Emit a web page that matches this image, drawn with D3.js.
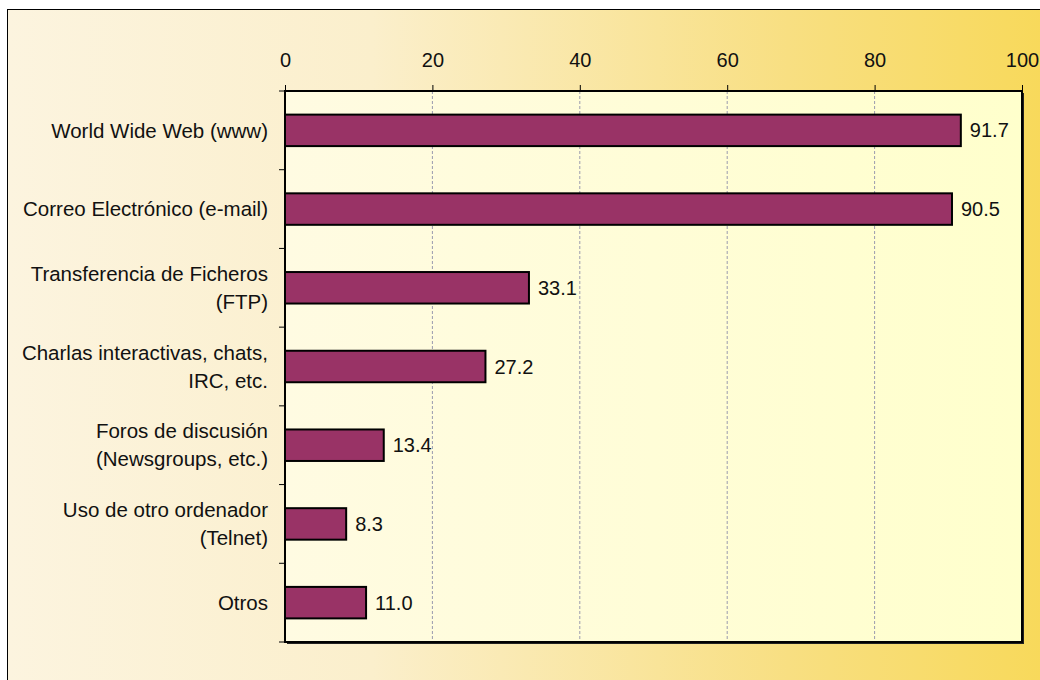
<!DOCTYPE html>
<html><head><meta charset="utf-8">
<script src="https://cdn.jsdelivr.net/npm/d3@7"></script>
<style>html,body{margin:0;padding:0;background:#fff;}svg{display:block;}</style>
</head><body>
<script>
const categories = [
  ["World Wide Web (www)"],
  ["Correo Electrónico (e-mail)"],
  ["Transferencia de Ficheros", "(FTP)"],
  ["Charlas interactivas, chats,", "IRC, etc."],
  ["Foros de discusión", "(Newsgroups, etc.)"],
  ["Uso de otro ordenador", "(Telnet)"],
  ["Otros"]
];
const values = [91.7, 90.5, 33.1, 27.2, 13.4, 8.3, 11.0];
const tickValues = [0, 20, 40, 60, 80, 100];

const FONT = "Liberation Sans, Arial, sans-serif";
const W = 1040, H = 680;
const svg = d3.select("body").append("svg").attr("width", W).attr("height", H);
const defs = svg.append("defs");
const g1 = defs.append("linearGradient").attr("id", "bg").attr("x1", 0).attr("x2", 1).attr("y1", 0).attr("y2", 0);
g1.append("stop").attr("offset", 0).attr("stop-color", "#fcf4df");
g1.append("stop").attr("offset", 0.35).attr("stop-color", "#fbefcc");
g1.append("stop").attr("offset", 0.75).attr("stop-color", "#f8df82");
g1.append("stop").attr("offset", 1).attr("stop-color", "#f8d95a");
const g2 = defs.append("linearGradient").attr("id", "plotbg").attr("x1", 0).attr("x2", 1).attr("y1", 0).attr("y2", 0);
g2.append("stop").attr("offset", 0).attr("stop-color", "#fffbe2");
g2.append("stop").attr("offset", 1).attr("stop-color", "#ffffcc");

svg.append("rect").attr("x", 7.5).attr("y", 9.5).attr("width", W).attr("height", H)
  .attr("fill", "url(#bg)").attr("stroke", "#000").attr("stroke-width", 1);

const m = {left: 285, top: 91, right: 1022, bottom: 642};
const x = d3.scaleLinear().domain([0, 100]).range([m.left, m.right]);
const y = d3.scaleBand().domain(d3.range(categories.length)).range([m.top, m.bottom]).paddingInner(0.6).paddingOuter(0.3);

// shadow
svg.append("rect").attr("x", m.left + 2).attr("y", m.top + 2).attr("width", m.right - m.left).attr("height", m.bottom - m.top)
  .attr("fill", "#222");
svg.append("rect").attr("x", m.left).attr("y", m.top).attr("width", m.right - m.left).attr("height", m.bottom - m.top)
  .attr("fill", "url(#plotbg)");

// gridlines
svg.append("g").selectAll("line").data(tickValues.filter(d => d > 0 && d < 100)).join("line")
  .attr("x1", d => x(d)).attr("x2", d => x(d)).attr("y1", m.top).attr("y2", m.bottom)
  .attr("stroke", "#9a9aae").attr("stroke-width", 1).attr("stroke-dasharray", "3,2");

// top axis
const xAxis = svg.append("g").attr("transform", `translate(0,${m.top})`)
  .call(d3.axisTop(x).tickValues(tickValues).tickSize(6).tickFormat(d3.format("d")));
xAxis.attr("font-family", FONT).attr("font-size", 20);
xAxis.select(".domain").remove();
xAxis.selectAll("line").attr("stroke", "#000");
xAxis.selectAll("text").attr("fill", "#111").attr("y", -24).attr("dy", "0");

// left ticks at band boundaries
const bounds = d3.range(categories.length + 1).map(i => m.top + i * (m.bottom - m.top) / categories.length);
svg.append("g").selectAll("line").data(bounds).join("line")
  .attr("x1", m.left - 6).attr("x2", m.left).attr("y1", d => d).attr("y2", d => d)
  .attr("stroke", "#000").attr("stroke-width", 1);

// plot border
svg.append("rect").attr("x", m.left).attr("y", m.top).attr("width", m.right - m.left).attr("height", m.bottom - m.top)
  .attr("fill", "none").attr("stroke", "#000").attr("stroke-width", 2);

// bars
svg.append("g").selectAll("rect").data(values).join("rect")
  .attr("x", x(0)).attr("y", (d, i) => y(i)).attr("width", d => x(d) - x(0)).attr("height", y.bandwidth())
  .attr("fill", "#993366").attr("stroke", "#000").attr("stroke-width", 2);

// value labels
svg.append("g").selectAll("text").data(values).join("text")
  .attr("x", d => x(d) + 9).attr("y", (d, i) => y(i) + y.bandwidth() / 2).attr("dy", "0.35em")
  .attr("font-family", FONT).attr("font-size", 20).attr("fill", "#111")
  .text(d => d.toFixed(1));

// category labels
const lab = svg.append("g").selectAll("text").data(categories).join("text")
  .attr("text-anchor", "end").attr("font-family", FONT).attr("font-size", 20.5).attr("fill", "#111")
  .attr("transform", (d, i) => `translate(268,${y(i) + y.bandwidth() / 2})`);
lab.each(function(lines) {
  const t = d3.select(this);
  const n = lines.length;
  lines.forEach((s, k) => {
    t.append("tspan").attr("x", 0).attr("y", (k - (n - 1) / 2) * 28).attr("dy", "0.35em").text(s);
  });
});
</script>
</body></html>
